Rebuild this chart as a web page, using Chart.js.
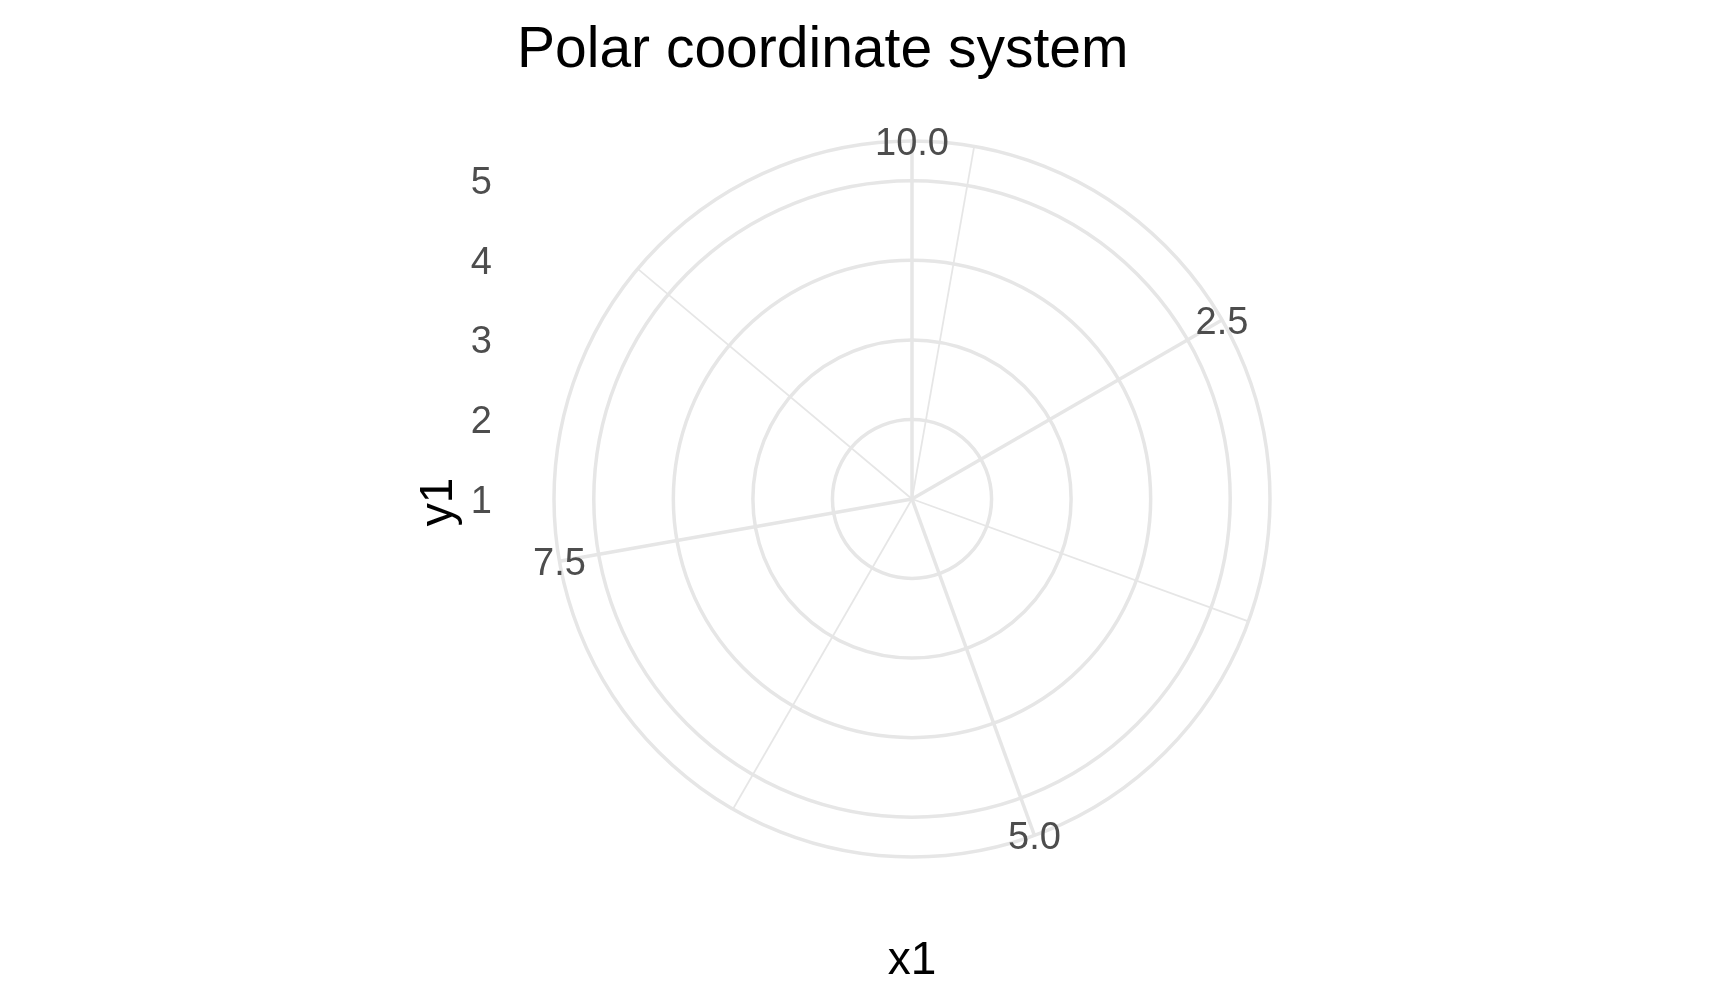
<!DOCTYPE html>
<html>
<head>
<meta charset="utf-8">
<script src="https://cdn.jsdelivr.net/npm/chart.js@4/dist/chart.umd.min.js"></script>
<style>
  body { margin: 0; background: #fff; }
  canvas { display: block; }
</style>
</head>
<body>
<canvas id="polarChart" width="1728" height="1008"></canvas>
<script>
// theta (x1) axis
const thetaLimits = [1, 10];
const thetaMajor = [2.5, 5.0, 7.5, 10.0];
const thetaMajorLabels = ["2.5", "5.0", "7.5", "10.0"];
const thetaMinor = [1.25, 3.75, 6.25, 8.75];
const thetaStep = 0.25;

// radial (y1) axis
const radialBreaks = [1, 2, 3, 4, 5];
const radialLimits = [1, 5.5];

const gridColor = "#E6E6E6";
const textColor = "#4D4D4D";
const fontFamily = "'Liberation Sans', Arial, sans-serif";
const tickSize = 38;

const nSpokes = Math.round((thetaLimits[1] - thetaLimits[0]) / thetaStep);
const spokeIndex = v => Math.round((v - thetaLimits[0]) / thetaStep) % nSpokes;
const spokeValues = [];
for (let i = 0; i < nSpokes; i++) spokeValues.push(thetaLimits[0] + i * thetaStep);
const majorIdx = thetaMajor.map(spokeIndex);
const minorIdx = thetaMinor.map(spokeIndex);

const textPlugin = {
  id: "ggText",
  afterDraw(chart) {
    const c = chart.ctx;
    const r = chart.scales.r;
    c.save();

    // theta labels sit on the outer circle
    c.fillStyle = textColor;
    c.font = tickSize + "px " + fontFamily;
    c.textAlign = "center";
    c.textBaseline = "alphabetic";
    thetaMajor.forEach((v, i) => {
      const p = r.getPointPosition(spokeIndex(v), r.drawingArea);
      c.fillText(thetaMajorLabels[i], p.x, p.y + tickSize * 0.358);
    });

    // radial labels on the left
    c.textAlign = "right";
    radialBreaks.forEach(v => {
      const y = r.yCenter - r.getDistanceFromCenterForValue(v);
      c.fillText(String(v), 492, y + tickSize * 0.358);
    });

    // titles
    c.fillStyle = "#000";
    c.font = "57px " + fontFamily;
    c.textAlign = "left";
    c.fillText("Polar coordinate system", 517, 67);

    c.font = "46px " + fontFamily;
    c.textAlign = "center";
    c.fillText("x1", r.xCenter, 974);

    c.translate(452, r.yCenter + 3);
    c.rotate(-Math.PI / 2);
    c.fillText("y1", 0, 0);
    c.restore();
  }
};

new Chart(document.getElementById("polarChart"), {
  type: "radar",
  data: {
    labels: spokeValues,
    datasets: []
  },
  options: {
    responsive: false,
    animation: false,
    layout: { padding: { left: 554, right: 457, top: 141, bottom: 150 } },
    plugins: { legend: { display: false }, title: { display: false }, tooltip: { enabled: false } },
    scales: {
      r: {
        min: radialLimits[0],
        max: radialLimits[1],
        startAngle: 0,
        afterBuildTicks: s => {
          s.ticks = radialBreaks.concat([radialLimits[1]]).map(v => ({ value: v }));
        },
        ticks: { display: false },
        pointLabels: { display: false },
        grid: { circular: true, color: gridColor, lineWidth: 3.5 },
        angleLines: {
          color: gridColor,
          lineWidth: ctx => majorIdx.includes(ctx.index) ? 3.5 : (minorIdx.includes(ctx.index) ? 1.75 : 0)
        }
      }
    }
  },
  plugins: [textPlugin]
});
</script>
</body>
</html>
